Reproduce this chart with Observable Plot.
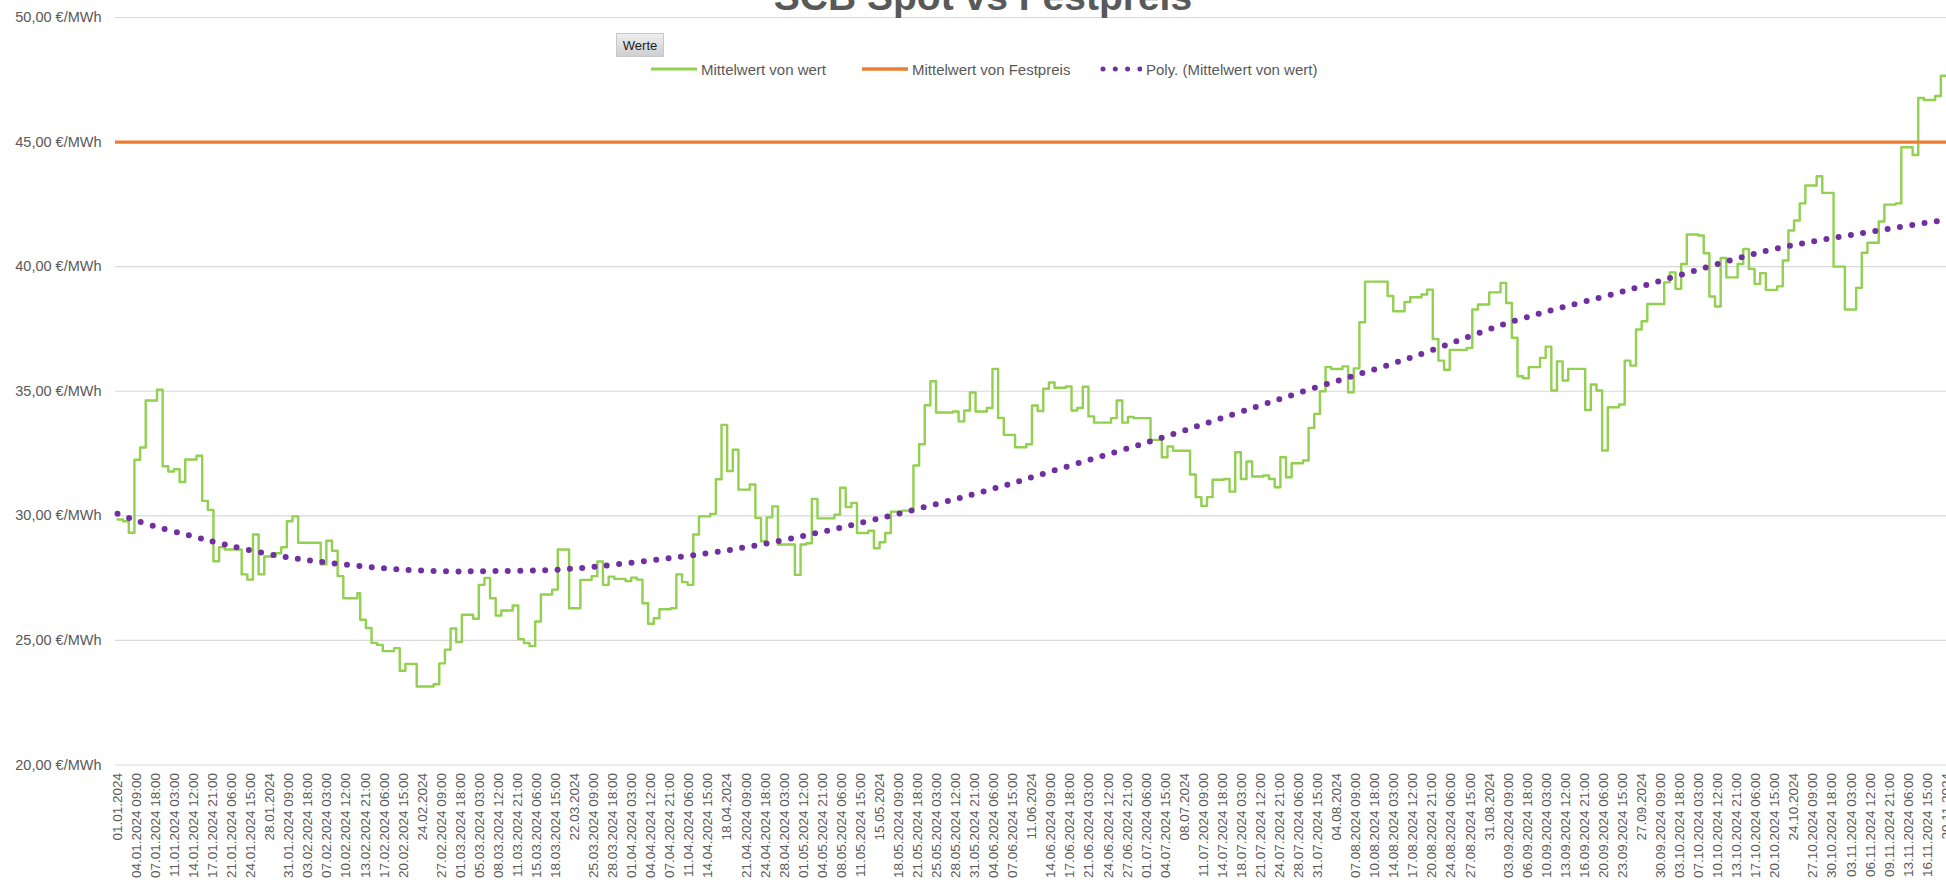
<!DOCTYPE html>
<html>
<head>
<meta charset="utf-8">
<script src="https://cdn.jsdelivr.net/npm/d3@7"></script>
<script src="https://cdn.jsdelivr.net/npm/@observablehq/plot@0.6"></script>
<style>
html, body { margin: 0; padding: 0; background: #fff; overflow: hidden; width: 1946px; height: 882px; }
#wrap { position: relative; width: 1946px; height: 882px; overflow: hidden; font-family: "Liberation Sans", Arial, sans-serif; color: #595959; }
#chart { position: absolute; left: 0; top: 0; width: 2000px; }
#chart svg { max-width: none !important; width: 2000px; height: 882px; }
#title { position: absolute; left: 0; width: 1966px; top: -23px; text-align: center; font-weight: bold; font-size: 39px; line-height: 39px; color: #595959; white-space: nowrap; }
.btn { position: absolute; left: 616px; top: 33px; width: 48px; height: 24px; line-height: 24px; text-align: center; font-size: 13px; color: #222; background: linear-gradient(#eeeeee, #cfcfcf); border: 1px solid #c8c8c8; box-sizing: border-box; }
.item { position: absolute; top: 59px; height: 20px; display: flex; align-items: center; gap: 4px; font-size: 15px; color: #595959; white-space: nowrap; }
.item svg { display: block; }
</style>
</head>
<body>
<div id="wrap">
  <div id="chart"></div>
  <div id="title">SCB Spot vs Festpreis</div>
  <div class="btn">Werte</div>
  <div class="item" style="left:651px"><svg width="46" height="8"><line x1="0" x2="46" y1="4" y2="4" stroke="#92d050" stroke-width="3"/></svg><span>Mittelwert von wert</span></div>
  <div class="item" style="left:862px"><svg width="46" height="8"><line x1="0" x2="46" y1="4" y2="4" stroke="#ed7d31" stroke-width="3.5"/></svg><span>Mittelwert von Festpreis</span></div>
  <div class="item" style="left:1100px"><svg width="42" height="8"><line x1="3" x2="40" y1="4" y2="4" stroke="#7030a0" stroke-width="5" stroke-linecap="round" stroke-dasharray="0 12.3"/></svg><span>Poly. (Mittelwert von wert)</span></div>
</div>
<script>
// ---- data (days since 01.01.2024 00:00) ----
const stepDay = [0,1,2,3,4,5,7,8,9,10,11,12,14,15,16,17,18,19,22,23,24,25,26,28,29,30,31,32,36,37,38,39,40,42.5,43,44,45,46,47,49,50,51,53,56,57,58,59,60,61,63,64,65,66,67,68,70,71,72,73,74,75,77,78,80,82,84,85,86,87,88,90,91,92,93,94,95,96,98,99,100,101,102,103,105,106,107,108,109,110,112,113,114,115,116,117,120,121,122,123,124,127,128,129,130,131,133,134,135,136,137,139,141,142,143,144,145,148,149,150,151,152,154,155,156,157,159,161,162,163,164,165,166,168,169,170,171,172,173,176,177,178,179,180,183,185,186,187,190,191,192,193,194,196,197,198,199,200,201,203,204,205,206,207,208,210,211,212,213,214,215,217,218,219,220,221,225,226,228,229,231,232,233,234,235,236,239,240,241,243,245,246,247,248,249,250,252,253,254,255,256,257,260,261,262,263,264,266,267,268,269,270,271,274,275,276,277,278,280,281,282,283,284,285,287,288,289,290,291,292,294,295,296,297,298,299,301,302,304,306,308,309,310,312,313,315,316,318,319,320,322,323,334];
const stepValue = [29.85,29.78,29.32,32.25,32.74,34.63,35.06,31.99,31.78,31.87,31.36,32.26,32.41,30.6,30.24,28.18,28.74,28.65,27.65,27.44,29.25,27.65,28.37,28.5,28.74,29.78,29.98,28.92,28.05,29.0,28.6,27.58,26.69,26.9,25.83,25.5,24.9,24.82,24.57,24.69,23.78,24.06,23.15,23.24,24.08,24.63,25.48,24.93,26.03,25.87,27.23,27.51,26.69,26.0,26.2,26.4,25.05,24.89,24.77,25.76,26.84,27.04,28.65,26.29,27.43,27.58,28.17,27.23,27.56,27.47,27.38,27.52,27.44,26.49,25.67,25.89,26.25,26.29,27.65,27.34,27.23,29.25,29.98,30.08,31.47,33.65,31.8,32.65,31.05,31.26,29.92,28.98,29.94,30.38,28.85,27.63,28.85,28.9,30.68,29.9,30.05,31.13,30.35,30.52,29.31,29.4,28.7,28.94,29.31,30.17,30.21,32.02,32.87,34.44,35.4,34.15,34.19,33.79,34.23,34.95,34.19,34.33,35.9,33.93,33.25,32.75,32.87,34.43,34.21,35.1,35.35,35.14,35.19,34.23,34.33,35.18,33.99,33.74,33.92,34.63,33.74,33.97,33.92,33.05,32.35,32.78,32.61,31.66,30.75,30.4,30.75,31.45,31.48,30.97,32.55,31.48,32.18,31.58,31.62,31.48,31.15,32.35,31.55,32.11,32.22,33.53,34.09,35.0,35.97,35.89,36.0,34.96,35.92,37.77,39.4,38.82,38.21,38.58,38.77,38.88,39.08,37.1,36.23,35.86,36.66,36.74,38.28,38.48,38.97,39.35,38.54,37.15,35.6,35.52,35.97,36.34,36.79,35.03,36.2,35.43,35.9,34.25,35.27,35.03,32.62,34.36,34.47,36.23,36.03,37.48,37.81,38.5,39.37,39.77,39.11,40.11,41.29,41.25,40.54,38.8,38.4,40.35,39.57,40.11,40.71,39.91,39.31,39.74,39.07,39.21,40.25,41.45,41.85,42.54,43.26,43.63,42.96,40.0,38.28,39.15,40.56,40.96,41.81,42.49,42.54,44.79,44.48,46.77,46.69,46.85,47.66,47.66];

const trendDay = [0,6,13,19,26,33,40,47,54,61,66,76,85,94.5,104,113,122,131,144,157,170,183,196,213,230.5,246.6,262,276,291.5,307,323,334];
const trendValue = [30.08,29.62,29.2,28.85,28.5,28.24,28.05,27.9,27.8,27.77,27.78,27.82,27.97,28.21,28.48,28.81,29.22,29.68,30.41,31.21,32.1,32.99,33.95,35.2,36.46,37.76,38.72,39.61,40.6,41.27,41.85,42.2];

const fixedPrice = [45];
const yTicks = [20, 25, 30, 35, 40, 45, 50];
const xTickStepHours = 81;   // category labels every 81 hours
const xTickCount = 97;

// ---- build tables ----
const wert = stepDay.map((d, i) => ({d, v: stepValue[i]}));
const trend = trendDay.map((d, i) => ({d, v: trendValue[i]}));
const xTicks = d3.range(xTickCount).map(i => i * xTickStepHours / 24);

const pad = n => String(n).padStart(2, "0");
function fmtTick(d) {
  const t = new Date(Date.UTC(2024, 0, 1) + Math.round(d * 24) * 3600e3);
  const s = pad(t.getUTCDate()) + "." + pad(t.getUTCMonth() + 1) + "." + t.getUTCFullYear();
  return t.getUTCHours() === 0 ? s : s + " " + pad(t.getUTCHours()) + ":00";
}
const fmtY = v => v.toFixed(2).replace(".", ",") + " €/MWh";

const W = 2000, X0 = 117, PX_PER_DAY = 5.645;
const xEnd = (W - X0) / PX_PER_DAY;

const chart = Plot.plot({
  width: W,
  height: 882,
  marginTop: 17,
  marginBottom: 117.5,
  marginLeft: 115,
  marginRight: 0,
  style: {fontFamily: '"Liberation Sans", Arial, sans-serif', color: "#595959", background: "transparent", maxWidth: "none"},
  x: {type: "linear", domain: [0, xEnd], range: [X0, X0 + PX_PER_DAY * xEnd]},
  y: {domain: [20, 50], range: [764.5, 17]},
  marks: [
    Plot.gridY(yTicks, {stroke: "#d9d9d9", strokeOpacity: 1, strokeWidth: 1.2}),
    Plot.axisY({ticks: yTicks, tickFormat: fmtY, tickSize: 0, tickPadding: 14, fontSize: 14.5, label: null}),
    Plot.axisX({ticks: xTicks, tickFormat: fmtTick, tickRotate: -90, tickSize: 0, tickPadding: 8, fontSize: 13.5, label: null}),
    Plot.line(wert, {x: "d", y: "v", curve: "step-after", stroke: "#92d050", strokeWidth: 2.4}),
    Plot.ruleY(fixedPrice, {stroke: "#ed7d31", strokeWidth: 3.3}),
    Plot.line(trend, {x: "d", y: "v", curve: "natural", stroke: "#7030a0", strokeWidth: 6, strokeLinecap: "round", strokeDasharray: "0 12.4"})
  ]
});
chart.style.maxWidth = "none";
document.getElementById("chart").appendChild(chart);
</script>
</body>
</html>
